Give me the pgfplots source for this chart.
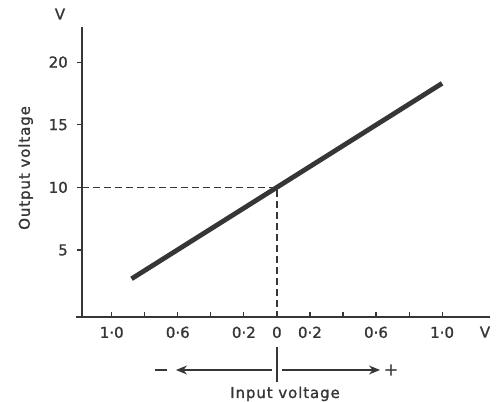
\documentclass[border=0pt]{standalone}
\usepackage{pgfplots}
\pgfplotsset{compat=1.18}
\usetikzlibrary{arrows.meta}
\usepackage{fontspec}
\setmainfont{DejaVu Sans}[FakeBold=1.2]
\newfontfamily\labelfont{DejaVu Sans}[LetterSpace=6,FakeBold=1.2]
\definecolor{ink}{HTML}{363636}
\begin{document}
\fontsize{15}{18}\selectfont
\begin{tikzpicture}
\begin{axis}[
  at={(0,0)}, anchor=south west,
  scale only axis, width=408pt, height=290pt,
  xmin=-1.18, xmax=1.29, ymin=-0.35, ymax=22.8,
  axis lines=left,
  axis line style={-, ink, line width=1.5pt},
  x axis line style={shorten <=-6pt},
  xtick={-1,-0.8,-0.6,-0.4,-0.2,0,0.2,0.4,0.6,0.8,1},
  xticklabels={1·0,,0·6,,0·2,0,0·2,,0·6,,1·0},
  ytick={5,10,15,20},
  tick align=inside, major tick length=5pt,
  tick style={ink, line width=1.1pt},
  every y tick/.append style={xshift=-5pt},
  tick label style={font=\fontsize{15}{18}\selectfont, text=ink},
  /pgf/number format/assume math mode=true,
  xticklabel style={yshift=-4.5pt},
  yticklabel style={xshift=-9pt},
  ylabel={\labelfont Output voltage},
  every axis y label/.style={at={(axis description cs:-0.138,0.514)}, rotate=90, anchor=center, text=ink, font=\fontsize{15}{18}\selectfont},
  clip=false,
]
\addplot[ink, line width=1.3pt, dash pattern=on 7pt off 4pt] coordinates {(-1.18,10) (0,10) (0,-0.35)};
\addplot[ink, line width=4.8pt] coordinates {(-0.88,2.7) (1.0,18.3)};
\end{axis}
\node[text=ink] at (-22pt,303pt) {V};
\node[text=ink] at (403pt,-15pt) {V};
\draw[ink, line width=1.3pt, -{Stealth[length=11pt,width=9pt]}] (190pt,-53pt) -- (94pt,-53pt);
\draw[ink, line width=1.3pt, -{Stealth[length=11pt,width=9pt]}] (200pt,-53pt) -- (298pt,-53pt);
\draw[ink, line width=1.4pt] (195pt,-30pt) -- (195pt,-65pt);
\draw[ink, line width=2pt] (73pt,-53pt) -- (85pt,-53pt);
\node[text=ink, font=\fontsize{17}{18}\selectfont] at (309pt,-53pt) {+};
\node[text=ink, anchor=base] at (203pt,-81pt) {\labelfont Input voltage};
\pgfresetboundingbox
\useasboundingbox (-82pt,-85pt) rectangle (417pt,317pt);
\end{tikzpicture}
\end{document}
